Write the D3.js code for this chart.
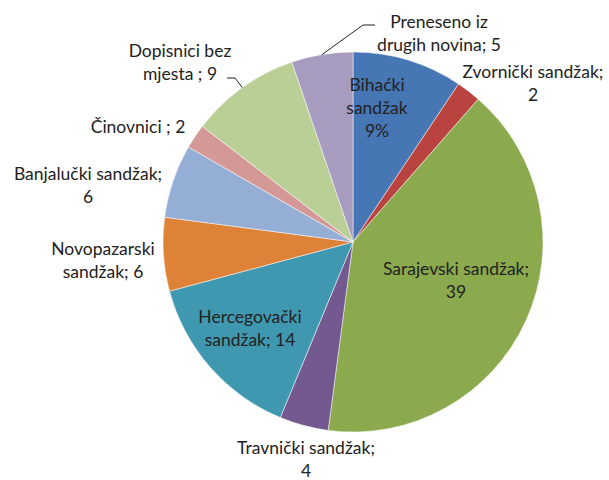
<!DOCTYPE html>
<html>
<head>
<meta charset="utf-8">
<script src="https://cdn.jsdelivr.net/npm/d3@7"></script>
<style>
  body { margin: 0; background: #fff; }
  text { font-family: Lato, "Open Sans", sans-serif; font-size: 17.5px; fill: #222; }
</style>
</head>
<body>
<div id="chart"></div>
<script>
// Chart data
const categories = [
  "Bihaćki sandžak", "Zvornički sandžak", "Sarajevski sandžak", "Travnički sandžak",
  "Hercegovački sandžak", "Novopazarski sandžak", "Banjalučki sandžak", "Činovnici",
  "Dopisnici bez mjesta", "Preneseno iz drugih novina"
];
const values = [9, 2, 39, 4, 14, 6, 6, 2, 9, 5];
const colors = [
  "#4676b4", "#b9433f", "#8ba94d", "#73598f", "#3f98b0",
  "#de8237", "#94aed6", "#d49896", "#b9cf96", "#a89bc0"
];
// label lines, as shown on the chart
const labelLines = [
  ["Bihaćki", "sandžak", "9%"],
  ["Zvornički sandžak;", "2"],
  ["Sarajevski sandžak;", "39"],
  ["Travnički sandžak;", "4"],
  ["Hercegovački", "sandžak; 14"],
  ["Novopazarski", "sandžak; 6"],
  ["Banjalučki sandžak;", "6"],
  ["Činovnici ; 2"],
  ["Dopisnici bez", "mjesta ; 9"],
  ["Preneseno iz", "drugih novina; 5"]
];

// Layout (label centres relative to pie centre)
const width = 609, height = 480;
const cx = 353, cy = 242, radius = 190;
const labelOffset = [
  [24, -134], [180, -159], [103, 38], [-47, 217], [-103, 86],
  [-250, 18], [-265, -57], [-215, -115], [-173, -180], [86, -209]
];
const lineHeight = 23;
// leader lines: [elbow dx, elbow dy, end dx, end dy] relative to pie centre
const leaders = { 8: [-118, -164, -126, -164], 9: [10, -217, 22, -217] };

const svg = d3.select("#chart").append("svg")
  .attr("width", width)
  .attr("height", height);

const g = svg.append("g").attr("transform", `translate(${cx},${cy})`);

const pie = d3.pie().sort(null).value(d => d)(values);
const arc = d3.arc().innerRadius(0).outerRadius(radius);
const edge = d3.arc().innerRadius(radius).outerRadius(radius);

g.selectAll("path.slice")
  .data(pie)
  .enter()
  .append("path")
  .attr("class", "slice")
  .attr("d", arc)
  .style("fill", (d, i) => colors[i])
  .style("stroke", "#fff")
  .style("stroke-width", 0.5);

// Leader lines
Object.keys(leaders).forEach(k => {
  const i = +k;
  const p = edge.centroid(pie[i]);
  const l = leaders[k];
  g.append("polyline")
    .attr("points", `${p[0]},${p[1]} ${l[0]},${l[1]} ${l[2]},${l[3]}`)
    .style("fill", "none")
    .style("stroke", "#222")
    .style("stroke-width", 1);
});

// Labels
const label = g.selectAll("text.label")
  .data(pie)
  .enter()
  .append("text")
  .attr("class", "label")
  .attr("text-anchor", "middle")
  .attr("transform", (d, i) => {
    const lines = labelLines[i].length;
    return `translate(${labelOffset[i][0]},${labelOffset[i][1] - (lines - 1) * lineHeight / 2})`;
  });

label.each(function (d, i) {
  const t = d3.select(this);
  labelLines[i].forEach((s, j) => {
    t.append("tspan")
      .attr("x", 0)
      .attr("y", j * lineHeight)
      .attr("dy", "0.35em")
      .text(s);
  });
});
</script>
</body>
</html>
